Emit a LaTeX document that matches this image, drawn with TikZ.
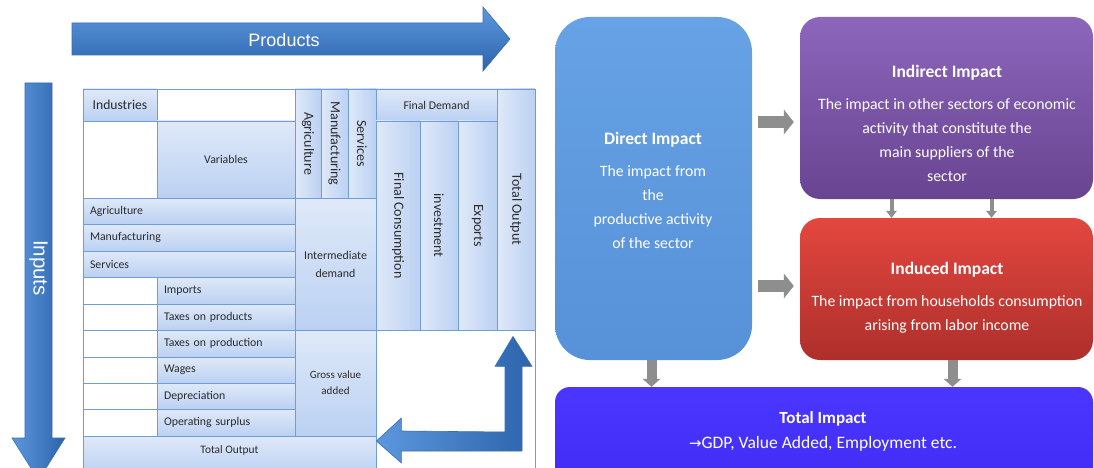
\documentclass[tikz,border=0pt]{standalone}
\usepackage{fontspec}
\setmainfont{Carlito}
\newfontfamily\arialfont{Liberation Sans}
\newfontfamily\symbolfont{DejaVu Sans}
\usetikzlibrary{arrows.meta,calc}

\definecolor{cellline}{HTML}{6E9DD8}
\definecolor{celltop}{HTML}{DFE9F9}
\definecolor{cellbot}{HTML}{BBD1F2}
\definecolor{celltext}{HTML}{2B2B2B}
\definecolor{arrowlight}{HTML}{5C98DE}
\definecolor{arrowdark}{HTML}{2D64AC}
\definecolor{arrowedge}{HTML}{3A6DB0}
\definecolor{directtop}{HTML}{66A2E5}
\definecolor{directbot}{HTML}{5791D8}
\definecolor{indirtop}{HTML}{8C66BB}
\definecolor{indirbot}{HTML}{684491}
\definecolor{indtop}{HTML}{E3473F}
\definecolor{indbot}{HTML}{AE2F2B}
\definecolor{totaltop}{HTML}{4A36FF}
\definecolor{totalbot}{HTML}{3F2BF2}
\definecolor{flowgray}{HTML}{8E8E8E}

% table cell: name, x1, y1, x2, y2, style, text
\newcommand\tcell[7]{%
  \pgfmathsetmacro\cellW{#4-#2}\pgfmathsetmacro\cellH{#5-#3}%
  \pgfmathsetmacro\cellX{(#2+#4)/2}\pgfmathsetmacro\cellY{(#3+#5)/2}%
  \node[#6, minimum width=\cellW pt, minimum height=\cellH pt] (#1) at (\cellX,\cellY) {#7};}
% left aligned row label cell
\newcommand\lcell[6]{%
  \pgfmathsetmacro\cellW{#4-#2}\pgfmathsetmacro\cellH{#5-#3}%
  \pgfmathsetmacro\cellT{#4-#2-14}%
  \pgfmathsetmacro\cellX{(#2+#4)/2}\pgfmathsetmacro\cellY{(#3+#5)/2}%
  \node[cell, align=left, inner xsep=7pt, text width=\cellT pt, minimum width=\cellW pt, minimum height=\cellH pt] (#1) at (\cellX,\cellY) {#6};}
% column header with text running downwards
\newcommand\rcell[6]{%
  \pgfmathsetmacro\cellW{#4-#2}\pgfmathsetmacro\cellH{#5-#3}%
  \pgfmathsetmacro\cellX{(#2+#4)/2}\pgfmathsetmacro\cellY{(#3+#5)/2}%
  \node[rcellstyle, rotate=-90, minimum width=\cellH pt, minimum height=\cellW pt] (#1) at (\cellX,\cellY) {#6};}

\begin{document}
\begin{tikzpicture}[x=1pt,y=-1pt,
  cell/.style={draw=cellline, line width=0.8pt, top color=celltop, bottom color=cellbot, inner sep=0pt, text=celltext, font=\fontsize{11.8}{14}\selectfont},
  rcellstyle/.style={draw=cellline, line width=0.8pt, left color=celltop, right color=cellbot, inner sep=0pt, text=celltext, font=\fontsize{14}{16}\selectfont},
  wcell/.style={draw=cellline, line width=0.8pt, fill=white, inner sep=0pt},
  bigtext/.style={text=white, font=\arialfont\fontsize{18}{22}\selectfont},
  impactbox/.style={draw=none, inner sep=0pt},
  impacttext/.style={text=white, align=center, font=\fontsize{15.8}{24}\selectfont},
  flowbig/.style={draw=flowgray, line width=12pt, -{Triangle[length=10pt,width=25pt,line width=0pt]}, shorten <=6pt, shorten >=6pt},
  flowdown/.style={draw=flowgray, line width=10pt, -{Triangle[length=8pt,width=18pt,line width=0pt]}},
  flowsmall/.style={draw=flowgray, line width=4pt, -{Triangle[length=7pt,width=11pt,line width=0pt]}},
]
\useasboundingbox (0,0) rectangle (1094,468);
\clip (0,0) rectangle (1094,468);
\fill[white] (0,0) rectangle (1094,468);

% ---------- Products / Inputs arrows ----------
\shadedraw[top color=arrowlight, bottom color=arrowdark, draw=arrowedge, line width=0.6pt]
  (72,23) -- (483,23) -- (483,7) -- (510,39) -- (483,71) -- (483,55) -- (72,55) -- cycle;
\node[bigtext] (products) at (284,40) {Products};

\shadedraw[left color=arrowlight, right color=arrowdark, draw=arrowedge, line width=0.6pt]
  (25,83) -- (52,83) -- (52,438) -- (65,438) -- (38.5,480) -- (12,438) -- (25,438) -- cycle;
\node[bigtext, font=\arialfont\fontsize{20.5}{24}\selectfont, rotate=-90] (inputs) at (38.5,268) {Inputs};

% ---------- input-output table ----------
\tcell{industries}{83}{89}{157}{121}{cell, font=\fontsize{13.6}{16}\selectfont}{Industries}
\tcell{blankA}{157}{89}{295}{121}{wcell}{}
\tcell{blankB}{83}{121}{157}{198}{wcell}{}
\tcell{variables}{157}{121}{295}{198}{cell}{Variables}
\rcell{colagri}{295}{89}{321}{198}{Agriculture}
\rcell{colmanu}{321}{89}{348}{198}{Manufacturing}
\rcell{colserv}{348}{89}{376}{198}{Services}
\tcell{finaldemand}{376}{89}{497}{121}{cell}{Final Demand}
\rcell{finalcons}{376}{121}{420}{330}{Final Consumption}
\rcell{investment}{420}{121}{458}{330}{investment}
\rcell{exports}{458}{121}{497}{330}{Exports}
\rcell{totcol}{497}{89}{535}{330}{Total Output}

\lcell{rowagri}{83}{198}{295}{224}{Agriculture}
\lcell{rowmanu}{83}{224}{295}{251}{Manufacturing}
\lcell{rowserv}{83}{251}{295}{277}{Services}

\tcell{blankC}{83}{277}{157}{304}{wcell}{}
\tcell{blankD}{83}{304}{157}{330}{wcell}{}
\tcell{blankE}{83}{330}{157}{357}{wcell}{}
\tcell{blankF}{83}{357}{157}{383}{wcell}{}
\tcell{blankG}{83}{383}{157}{409}{wcell}{}
\tcell{blankH}{83}{409}{157}{436}{wcell}{}

\lcell{imports}{157}{277}{295}{304}{Imports}
\lcell{taxprod}{157}{304}{295}{330}{Taxes on products}
\lcell{taxprodn}{157}{330}{295}{357}{Taxes on production}
\lcell{wages}{157}{357}{295}{383}{Wages}
\lcell{deprec}{157}{383}{295}{409}{Depreciation}
\lcell{opsurplus}{157}{409}{295}{436}{Operating surplus}

\tcell{interm}{295}{198}{376}{330}{cell, align=center, font=\fontsize{11.9}{18}\selectfont}{Intermediate\\demand}
\tcell{gva}{295}{330}{376}{436}{cell, align=center, font=\fontsize{11}{16}\selectfont}{Gross value\\added}
\tcell{totrow}{83}{436}{376}{474}{cell, font=\fontsize{11.4}{14}\selectfont, text depth=10pt}{Total Output}
\tcell{blankI}{376}{330}{535}{474}{wcell}{}

% bent arrow from the output column back to the output row
% (totcol is turned by -90 degrees, so its east anchor is its lower edge)
\coordinate (bt) at ($(totcol.east)+(-3,6)$);
\coordinate (bl) at ($(totrow.east)+(0,-14)$);
\coordinate (bc) at ($(bt |- bl)+(9,10)$);
\shadedraw[left color=arrowlight, right color=arrowdark, draw=arrowedge, line width=0.6pt]
  (bt) -- ++(19,30) -- ++(-10,0) -- (bc) -- ($(bl)+(25,10)$) -- ++(0,12) -- (bl)
  -- ++(25,-23) -- ++(0,13) -- ($(bc)+(-17,-19)$) -- ($(bt)+(-8,30)$) -- ++(-10,0) -- cycle;

% ---------- impact boxes ----------
\node[impactbox, top color=directtop, bottom color=directbot, rounded corners=35pt,
  minimum width=197pt, minimum height=343pt] (direct) at (653.5,188.5) {};
\node[impactbox, top color=indirtop, bottom color=indirbot, rounded corners=20pt,
  minimum width=293pt, minimum height=182pt] (indirect) at (946.5,108) {};
\node[impactbox, top color=indtop, bottom color=indbot, rounded corners=20pt,
  minimum width=293pt, minimum height=142pt] (induced) at (946.5,289) {};
\node[impactbox, top color=totaltop, bottom color=totalbot, rounded corners=15pt,
  minimum width=538pt, minimum height=113pt] (total) at (824,443.5) {};

\node[impacttext] (directtxt) at (653,190)
  {{\fontsize{17.5}{24}\selectfont\bfseries Direct Impact}\\[8pt]The impact from\\the\\productive activity\\of the sector};
\node[impacttext] (indirecttxt) at (947,123)
  {{\fontsize{17.5}{24}\selectfont\bfseries Indirect Impact}\\[8pt]The impact in other sectors of economic\\activity that constitute the\\main suppliers of the\\sector};
\node[impacttext] (inducedtxt) at (947,298)
  {{\fontsize{17.5}{24}\selectfont\bfseries Induced Impact}\\[8pt]The impact from households consumption\\arising from labor income};
\node[impacttext, font=\fontsize{17.5}{25}\selectfont] (totaltxt) at (823,431)
  {{\fontsize{17}{25}\selectfont\bfseries Total Impact}\\{\symbolfont\fontsize{15}{25}\selectfont →}GDP, Value Added, Employment etc.};

% ---------- flows between impacts ----------
\draw[flowbig] (direct.east |- 0,122) -- (indirect.west |- 0,122);
\draw[flowbig] (direct.east |- 0,286) -- (induced.west |- 0,286);
\draw[flowsmall] ([xshift=-55pt]indirect.south) -- ([xshift=-55pt]indirect.south |- induced.north);
\draw[flowsmall] ([xshift=45pt]indirect.south) -- ([xshift=45pt]indirect.south |- induced.north);
\draw[flowdown] ([xshift=-2pt]direct.south) -- ([xshift=-2pt]direct.south |- total.north);
\draw[flowdown] ([xshift=6pt]induced.south) -- ([xshift=6pt]induced.south |- total.north);
\end{tikzpicture}
\end{document}
